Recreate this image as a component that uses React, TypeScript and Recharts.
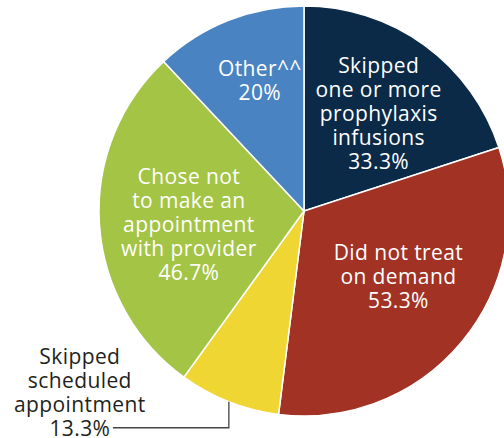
import { PieChart, Pie, Cell } from 'recharts';

const categories = [
  'Skipped one or more prophylaxis infusions',
  'Did not treat on demand',
  'Skipped scheduled appointment',
  'Chose not to make an appointment with provider',
  'Other^^',
];
const percents = [33.3, 53.3, 13.3, 46.7, 20];
const labelLines = [
  ['Skipped', 'one or more', 'prophylaxis', 'infusions', '33.3%'],
  ['Did not treat', 'on demand', '53.3%'],
  ['Skipped', 'scheduled', 'appointment', '13.3%'],
  ['Chose not', 'to make an', 'appointment', 'with provider', '46.7%'],
  ['Other^^', '20%'],
];
const colors = ['#0a2a48', '#a13224', '#efd632', '#a3c444', '#4a83c2'];

const data = categories.map((name, i) => ({ name, value: percents[i] }));

// label placement: share of radius and a small angle nudge (yellow goes outside)
const labelRadius = [0.6, 0.56, 0, 0.565, 0.675];
const labelNudge = [-1.4, 4.9, 0, 2.8, -3];
const FONT = '"Open Sans", sans-serif';
const FONT_SIZE = 21;
const LINE_H = 24;
const RAD = Math.PI / 180;

function renderLabel(props: any) {
  const { cx, cy, midAngle, outerRadius, index } = props;
  const lines = labelLines[index];

  if (index === 2) {
    const ex = cx + outerRadius * Math.cos(-midAngle * RAD);
    const ey = cy + outerRadius * Math.sin(-midAngle * RAD);
    const ly = ey + 26;
    const lx = ex - 116;
    const tx = lx - 33;
    const top = ly - (lines.length - 1) * LINE_H;
    return (
      <g>
        <polyline points={`${ex},${ey} ${ex},${ly} ${lx},${ly}`} fill="none" stroke="#444" strokeWidth={1.3} />
        <text
          textAnchor="middle"
          fill="#231f20"
          fontFamily={FONT}
          fontSize={FONT_SIZE}
          fontWeight={500}
          letterSpacing={0.4}
        >
          {lines.map((t, k) => (
            <tspan key={k} x={tx} y={top + k * LINE_H} dominantBaseline="central">
              {t}
            </tspan>
          ))}
        </text>
      </g>
    );
  }

  const ang = (midAngle + labelNudge[index]) * RAD;
  const r = outerRadius * labelRadius[index];
  const x = cx + r * Math.cos(-ang);
  const y = cy + r * Math.sin(-ang);
  const top = y - ((lines.length - 1) * LINE_H) / 2;
  return (
    <text
      textAnchor="middle"
      fill="#ffffff"
      fontFamily={FONT}
      fontSize={FONT_SIZE}
      fontWeight={500}
      letterSpacing={0.4}
    >
      {lines.map((t, k) => (
        <tspan key={k} x={x} y={top + k * LINE_H} dominantBaseline="central">
          {t}
        </tspan>
      ))}
    </text>
  );
}

export default function App() {
  return (
    <div style={{ position: 'absolute', left: 0, top: 0, width: 504, height: 438, background: '#fff' }}>
      <PieChart width={504} height={438} margin={{ top: 0, right: 0, bottom: 0, left: 0 }}>
        <Pie
          data={data}
          dataKey="value"
          nameKey="name"
          cx={304}
          cy={211}
          outerRadius={205}
          startAngle={90}
          endAngle={-270}
          stroke="#ffffff"
          strokeWidth={1.5}
          label={renderLabel}
          labelLine={false}
          isAnimationActive={false}
        >
          {data.map((d, i) => (
            <Cell key={d.name} fill={colors[i]} />
          ))}
        </Pie>
      </PieChart>
    </div>
  );
}
